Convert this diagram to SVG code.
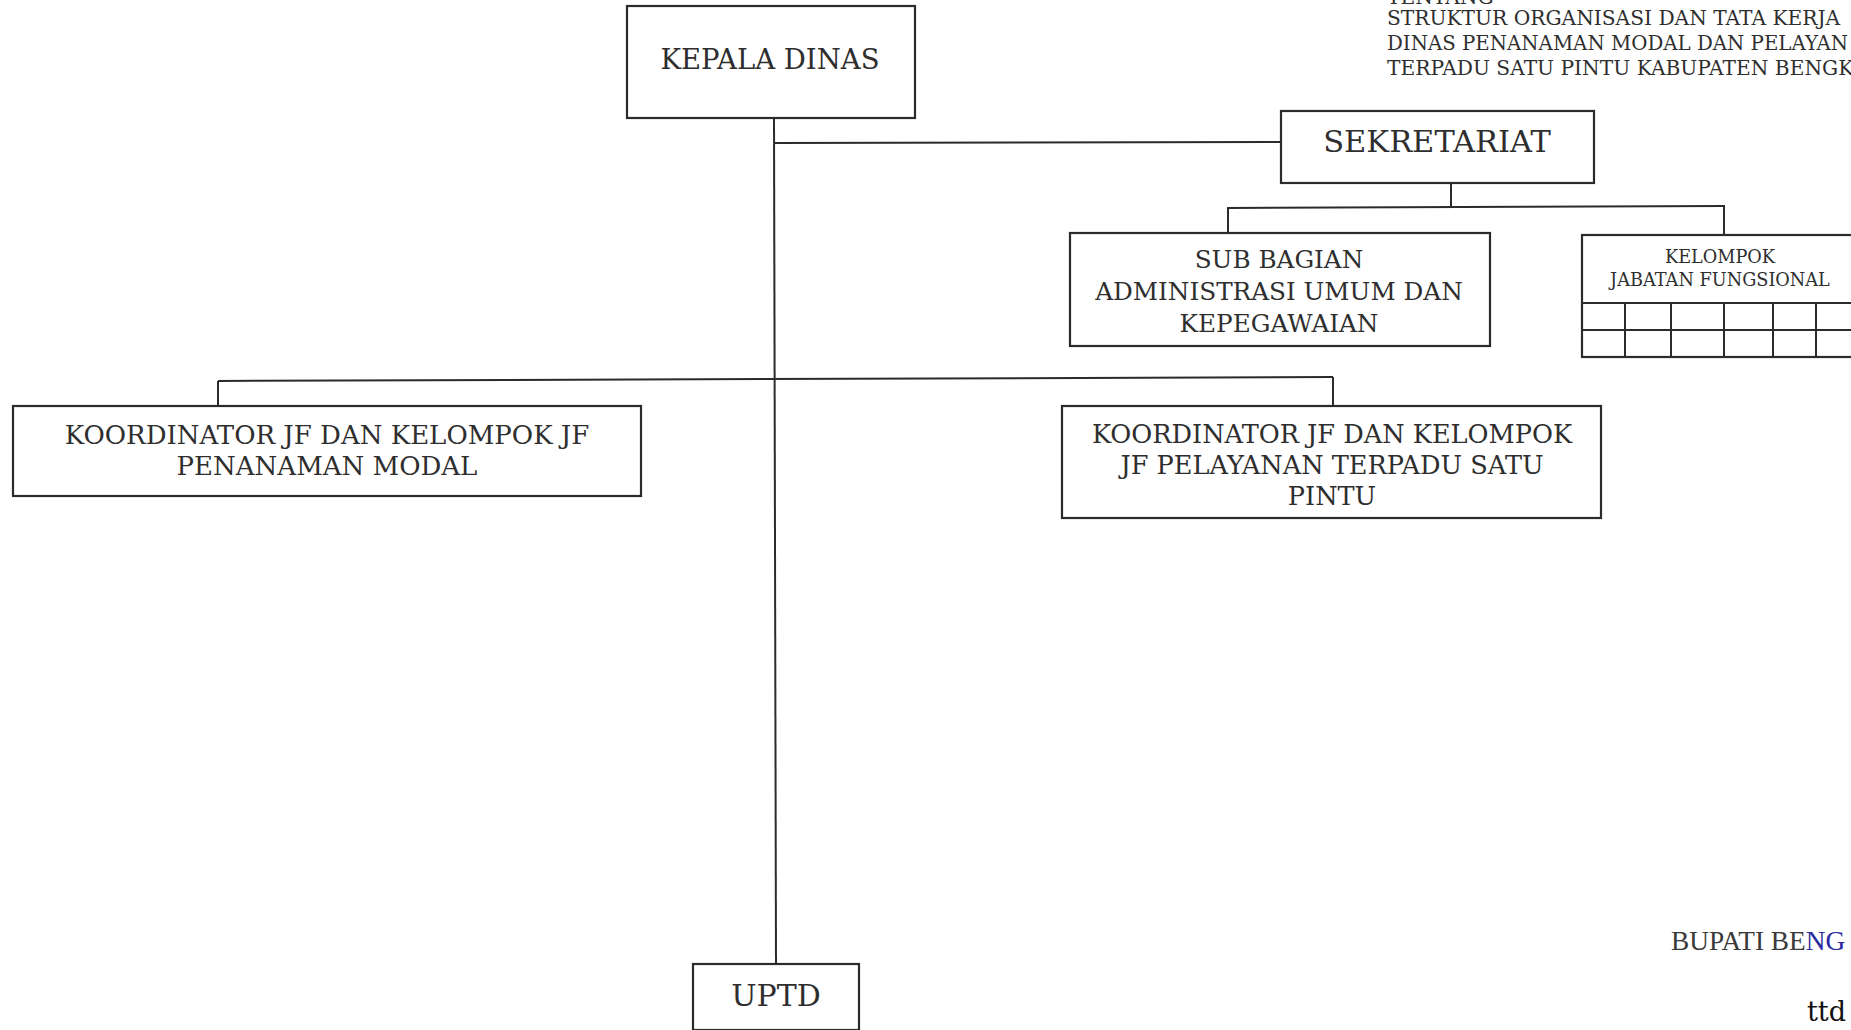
<svg xmlns="http://www.w3.org/2000/svg" width="1851" height="1030" viewBox="0 0 1851 1030">
<style>
.box{fill:#fff;stroke:#2b2b2b;stroke-width:2.2}
.ln{fill:none;stroke:#2b2b2b;stroke-width:2}
.t{font-family:"DejaVu Serif","Liberation Serif",serif;fill:#2e2e2e;text-anchor:middle}
.h{font-family:"DejaVu Serif","Liberation Serif",serif;fill:#2e2e2e;font-size:20.2px}
</style>
<rect width="1851" height="1030" fill="#fff"/>
<g id="header">
<text class="h" x="1387" y="4">TENTANG</text>
<text class="h" x="1387" y="25">STRUKTUR ORGANISASI DAN TATA KERJA</text>
<text class="h" x="1387" y="50" textLength="461" lengthAdjust="spacingAndGlyphs">DINAS PENANAMAN MODAL DAN PELAYAN</text>
<text class="h" x="1387" y="75">TERPADU SATU PINTU KABUPATEN BENGK</text>
</g>
<g id="connectors">
<line class="ln" x1="774" y1="118" x2="776" y2="964"/>
<line class="ln" x1="774" y1="143" x2="1281" y2="142"/>
<line class="ln" x1="1451" y1="183" x2="1451" y2="207"/>
<line class="ln" x1="1228" y1="208" x2="1725" y2="206"/>
<line class="ln" x1="1228" y1="207" x2="1228" y2="233"/>
<line class="ln" x1="1724" y1="206" x2="1724" y2="235"/>
<line class="ln" x1="218" y1="381" x2="1333" y2="377"/>
<line class="ln" x1="218" y1="381" x2="218" y2="406"/>
<line class="ln" x1="1333" y1="377" x2="1333" y2="406"/>
</g>
<g id="kepala-dinas">
<rect class="box" x="627" y="6" width="288" height="112"/>
<text class="t" x="770" y="69" font-size="27.5">KEPALA DINAS</text>
</g>
<g id="sekretariat">
<rect class="box" x="1281" y="111" width="313" height="72"/>
<text class="t" x="1437" y="152" font-size="30.5">SEKRETARIAT</text>
</g>
<g id="sub-bagian">
<rect class="box" x="1070" y="233" width="420" height="113"/>
<text class="t" x="1279" y="268" font-size="24.7">SUB BAGIAN</text>
<text class="t" x="1279" y="300" font-size="24.7">ADMINISTRASI UMUM DAN</text>
<text class="t" x="1279" y="332" font-size="24.7">KEPEGAWAIAN</text>
</g>
<g id="kelompok-jf">
<rect class="box" x="1582" y="235" width="300" height="122"/>
<line class="ln" x1="1582" y1="303" x2="1860" y2="303"/>
<line class="ln" x1="1582" y1="330" x2="1860" y2="330"/>
<line class="ln" x1="1625" y1="303" x2="1625" y2="357"/>
<line class="ln" x1="1671" y1="303" x2="1671" y2="357"/>
<line class="ln" x1="1724" y1="303" x2="1724" y2="357"/>
<line class="ln" x1="1773" y1="303" x2="1773" y2="357"/>
<line class="ln" x1="1816" y1="303" x2="1816" y2="357"/>
<text class="t" x="1720" y="263" font-size="17.7">KELOMPOK</text>
<text class="t" x="1720" y="286" font-size="17.7">JABATAN FUNGSIONAL</text>
</g>
<g id="koordinator-pm">
<rect class="box" x="13" y="406" width="628" height="90"/>
<text class="t" x="327" y="444" font-size="26">KOORDINATOR JF DAN KELOMPOK JF</text>
<text class="t" x="327" y="475" font-size="26">PENANAMAN MODAL</text>
</g>
<g id="koordinator-ptsp">
<rect class="box" x="1062" y="406" width="539" height="112"/>
<text class="t" x="1332" y="443" font-size="25.6">KOORDINATOR JF DAN KELOMPOK</text>
<text class="t" x="1332" y="474" font-size="25.6">JF PELAYANAN TERPADU SATU</text>
<text class="t" x="1332" y="505" font-size="25.6">PINTU</text>
</g>
<g id="uptd">
<rect class="box" x="693" y="964" width="166" height="66"/>
<text class="t" x="776" y="1006" font-size="30">UPTD</text>
</g>
<g id="signature">
<text x="1671" y="950" font-family="Liberation Serif, serif" font-size="27.3" fill="#3a3a3a">BUPATI BE<tspan fill="#2a2aa0">NG</tspan></text>
<text x="1807" y="1021" font-family="DejaVu Serif, serif" font-size="27" fill="#111">ttd</text>
</g>
</svg>
